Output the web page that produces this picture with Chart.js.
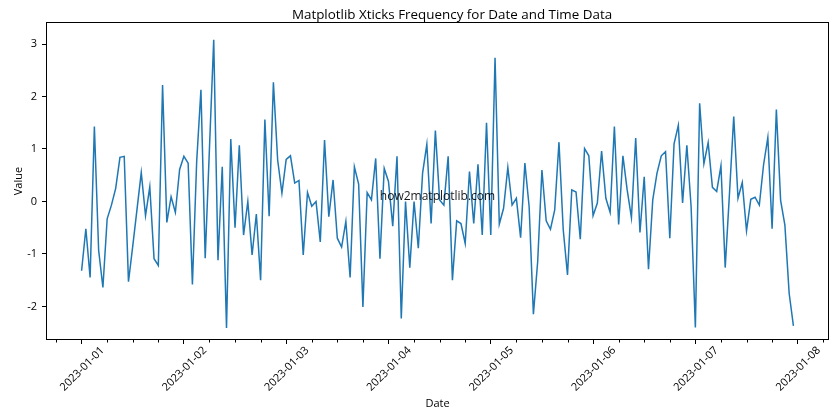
<!DOCTYPE html>
<html><head><meta charset="utf-8">
<script src="https://cdn.jsdelivr.net/npm/chart.js@4.4.1/dist/chart.umd.min.js"></script>
<style>html,body{margin:0;padding:0;background:#fff}#wrap{width:840px;height:420px}</style>
</head><body><div id="wrap"><canvas id="c" width="840" height="420"></canvas></div>
<script>
const chartTitle = 'Matplotlib Xticks Frequency for Date and Time Data';
const xTitle = 'Date';
const yTitle = 'Value';
const watermark = 'how2matplotlib.com';
const tickLabels = ['2023-01-01','2023-01-02','2023-01-03','2023-01-04','2023-01-05','2023-01-06','2023-01-07','2023-01-08'];
const majorTickHours = [0,24,48,72,96,120,144,168];
const yTicks = [-2,-1,0,1,2,3];
// hourly values starting 2023-01-01 00:00
const values = [
 -1.32,-0.52,-1.45,1.43,-0.93,-1.64,-0.33,-0.07,0.25,0.84,0.86,-1.53,
 -0.85,-0.15,0.55,-0.27,0.28,-1.09,-1.22,2.22,-0.40,0.09,-0.21,0.61,
 0.86,0.73,-1.58,0.76,2.13,-1.08,1.02,3.08,-1.12,0.66,-2.41,1.19,
 -0.50,1.07,-0.64,0.00,-1.02,-0.24,-1.50,1.56,-0.28,2.27,0.79,0.16,
 0.80,0.87,0.35,0.40,-1.02,0.17,-0.09,0.00,-0.77,1.17,-0.29,0.41,
 -0.70,-0.87,-0.38,-1.45,0.66,0.33,-2.01,0.17,0.03,0.82,-1.09,0.63,
 0.38,-0.47,0.86,-2.23,0.00,-1.26,0.00,-0.89,0.54,1.09,-0.42,1.35,
 0.03,-0.07,0.86,-1.50,-0.37,-0.42,-0.80,0.57,-0.42,0.71,-0.64,1.50,
 -0.64,2.74,-0.43,-0.13,0.65,-0.07,0.06,-0.69,0.73,-0.10,-2.15,-1.15,
 0.60,-0.37,-0.53,-0.16,1.13,-0.54,-1.40,0.22,0.18,-0.72,1.01,0.87,
 -0.27,-0.03,0.96,0.06,-0.21,1.43,-0.44,0.87,0.22,-0.31,1.21,-0.59,
 0.47,-1.29,0.03,0.54,0.87,0.95,-0.70,1.10,1.45,-0.03,1.07,-0.10,
 -2.40,1.87,0.72,1.12,0.27,0.19,0.68,-1.26,0.15,1.62,0.06,0.36,
 -0.56,0.04,0.08,-0.07,0.70,1.22,-0.52,1.75,0.02,-0.45,-1.75,-2.37
];
const points = values.map((v, i) => ({x: i, y: v}));
const FONT = "'Open Sans', 'DejaVu Sans', sans-serif";
Chart.defaults.font.family = FONT;
Chart.defaults.color = '#000';

const framePlugin = {
  id: 'frame',
  afterDraw(chart) {
    const {ctx, chartArea: a, scales: {x}} = chart;
    ctx.save();
    ctx.strokeStyle = '#000';
    ctx.lineWidth = 1;
    ctx.strokeRect(Math.round(a.left) + 0.5, Math.round(a.top) + 0.5,
      Math.round(a.right - a.left) - 1, Math.round(a.bottom - a.top) - 1);
    // minor ticks every 6 hours
    ctx.beginPath();
    for (let h = -6; h <= 174; h += 6) {
      if (h % 24 === 0) continue;
      const px = Math.round(x.getPixelForValue(h)) + 0.5;
      if (px < a.left || px > a.right) continue;
      ctx.moveTo(px, Math.round(a.bottom));
      ctx.lineTo(px, Math.round(a.bottom) + 2.5);
    }
    ctx.stroke();
    // title
    ctx.font = '13.4px ' + FONT;
    ctx.fillStyle = '#000';
    ctx.textAlign = 'center';
    ctx.textBaseline = 'middle';
    ctx.fillText(chartTitle, 452, 15);
    // watermark
    ctx.font = '12px ' + FONT;
    ctx.fillStyle = 'rgba(0,0,0,0.9)';
    ctx.fillText(watermark, (a.left + a.right) / 2, (a.top + a.bottom) / 2 + 16);
    ctx.restore();
  }
};

new Chart(document.getElementById('c'), {
  type: 'line',
  data: { datasets: [{ data: points, borderColor: '#1f77b4', borderWidth: 1.5,
    pointRadius: 0, tension: 0, fill: false }] },
  options: {
    responsive: false, animation: false, devicePixelRatio: 1,
    layout: { padding: { left: 0, right: 11, top: 22, bottom: 0 } },
    plugins: {
      legend: { display: false }, tooltip: { enabled: false }, title: { display: false }
    },
    scales: {
      x: {
        type: 'linear', min: -8.35, max: 175.35,
        afterBuildTicks: s => { s.ticks = majorTickHours.map(v => ({ value: v })); },
        afterFit: s => { s.height = 80; },
        ticks: { autoSkip: false, minRotation: 45, maxRotation: 45, padding: 0, labelOffset: 21,
          font: { size: 11 }, color: '#000',
          callback: (v, i) => tickLabels[i] },
        grid: { drawOnChartArea: false, drawTicks: true, tickLength: 4, tickColor: '#000' },
        border: { display: false },
        title: { display: true, text: xTitle, color: '#000', font: { size: 11 }, padding: { top: 0, bottom: 9.4 } }
      },
      y: {
        min: -2.64, max: 3.42,
        afterBuildTicks: s => { s.ticks = yTicks.map(v => ({ value: v })); },
        afterFit: s => { s.width = 46; },
        ticks: { padding: 5, font: { size: 11 }, color: '#000', callback: v => String(v) },
        grid: { drawOnChartArea: false, drawTicks: true, tickLength: 4, tickColor: '#000' },
        border: { display: false },
        title: { display: true, text: yTitle, color: '#000', font: { size: 11 }, padding: { top: 12, bottom: 0 } }
      }
    }
  },
  plugins: [framePlugin]
});
</script></body></html>
